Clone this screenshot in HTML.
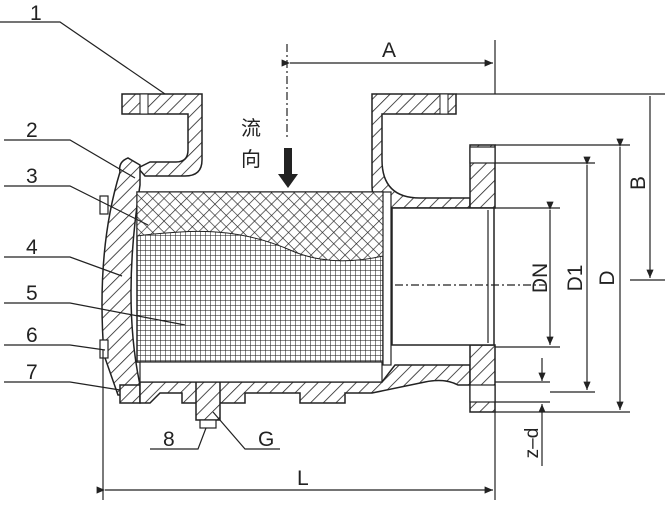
<!DOCTYPE html>
<html><head><meta charset="utf-8"><style>body{margin:0;background:#fff}svg{display:block}text{font-family:"Liberation Sans","Noto Sans CJK SC",sans-serif;fill:#222}</style></head><body>
<svg width="666" height="506" viewBox="0 0 666 506" xmlns="http://www.w3.org/2000/svg">
<defs>
<pattern id="h" width="9" height="9" patternUnits="userSpaceOnUse" patternTransform="rotate(45)"><rect width="9" height="9" fill="#fff"/><line x1="0" y1="0" x2="0" y2="9" stroke="#222" stroke-width="1.6"/></pattern>
<pattern id="x" width="8" height="8" patternUnits="userSpaceOnUse" patternTransform="rotate(45)"><rect width="8" height="8" fill="#fff"/><line x1="0" y1="0" x2="0" y2="8" stroke="#222" stroke-width="1.3"/><line x1="0" y1="0" x2="8" y2="0" stroke="#222" stroke-width="1.3"/></pattern>
<pattern id="g" width="5" height="5" patternUnits="userSpaceOnUse"><rect width="5" height="5" fill="#fff"/><line x1="0" y1="0" x2="0" y2="5" stroke="#222" stroke-width="1.1"/><line x1="0" y1="0" x2="5" y2="0" stroke="#222" stroke-width="1.1"/></pattern>
<marker id="a" markerWidth="8" markerHeight="8" refX="7" refY="3" orient="auto"><path d="M0,0 L7,3 L0,6z" fill="#222"/></marker>
</defs>
<g stroke="#222" stroke-width="1.5" fill="url(#h)">
<path d="M122,94 H202 V160 Q202,176 185,176 H145 L138,168 L150,162 H176 Q188,162 188,150 V114 H122Z"/>
<path d="M372,94 H456 V114 H382 V160 Q382,198 420,198 H470 V208 H390 Q372,208 372,185Z"/>
<path d="M128,158 Q118,162 120,172 Q96,250 104,355 L118,395 H140 L140,385 Q122,300 140,185 L140,165Z"/>
<path d="M120,385 H140 V403 H120Z"/>
<path d="M140,382 H382 L395,365 H470 V385 H458 Q445,378 425,382 L372,393 H345 V403 H300 V393 H245 V403 H182 V393 H160 L150,403 H140Z"/>
<path d="M470,145 H495 V208 H470Z"/>
<path d="M470,345 H495 V412 H470Z"/>
<path d="M196,382 H220 V420 H196Z"/>
</g>
<rect x="200" y="420" width="16" height="8" fill="#fff" stroke="#222" stroke-width="1.2"/>
<rect x="470" y="147" width="25" height="16" fill="#fff" stroke="#222" stroke-width="1.2"/>
<rect x="470" y="385" width="25" height="17" fill="#fff" stroke="#222" stroke-width="1.2"/>
<rect x="440" y="94" width="8" height="20" fill="#fff" stroke="#222" stroke-width="1"/>
<rect x="140" y="94" width="8" height="20" fill="#fff" stroke="#222" stroke-width="1"/>
<rect x="392" y="208" width="102" height="137" fill="#fff" stroke="#222" stroke-width="1.5"/>
<line x1="488" y1="210" x2="488" y2="343" stroke="#222" stroke-width="1.2"/>
<rect x="137" y="192" width="246" height="170" fill="url(#g)" stroke="#222" stroke-width="1.5"/>
<path d="M137,192 H383 V256 Q330,268 290,250 Q240,228 180,232 Q150,234 137,236Z" fill="url(#x)" stroke="#222" stroke-width="1"/>
<rect x="383" y="192" width="8" height="173" fill="#fff" stroke="#222" stroke-width="1.2"/>
<rect x="140" y="362" width="242" height="20" fill="#fff" stroke="#222" stroke-width="1.2"/>
<rect x="100" y="196" width="8" height="18" fill="#fff" stroke="#222" stroke-width="1.2"/>
<rect x="100" y="340" width="8" height="18" fill="#fff" stroke="#222" stroke-width="1.2"/>
<g stroke="#222" stroke-width="1.2" fill="none">
<line x1="287" y1="44" x2="287" y2="140" stroke-dasharray="8,3,2,3"/>
<line x1="395" y1="285" x2="545" y2="285" stroke-dasharray="8,3,2,3"/>
<line x1="495" y1="40" x2="495" y2="94"/>
<line x1="290" y1="63" x2="493" y2="63" marker-start="url(#a)" marker-end="url(#a)"/>
<line x1="456" y1="94" x2="665" y2="94"/>
<line x1="650" y1="96" x2="650" y2="278" marker-end="url(#a)"/>
<line x1="630" y1="280" x2="665" y2="280"/>
<line x1="495" y1="145" x2="630" y2="145"/>
<line x1="495" y1="412" x2="630" y2="412"/>
<line x1="620" y1="147" x2="620" y2="410" marker-start="url(#a)" marker-end="url(#a)"/>
<line x1="495" y1="163" x2="595" y2="163"/>
<line x1="550" y1="392" x2="595" y2="392"/>
<line x1="587" y1="165" x2="587" y2="390" marker-start="url(#a)" marker-end="url(#a)"/>
<line x1="495" y1="208" x2="560" y2="208"/>
<line x1="495" y1="347" x2="560" y2="347"/>
<line x1="550" y1="210" x2="550" y2="345" marker-start="url(#a)" marker-end="url(#a)"/>
<line x1="495" y1="382" x2="550" y2="382"/>
<line x1="495" y1="402" x2="550" y2="402"/>
<line x1="542" y1="358" x2="542" y2="381" marker-end="url(#a)"/>
<line x1="542" y1="466" x2="542" y2="404" marker-end="url(#a)"/>
<line x1="103" y1="350" x2="103" y2="500"/>
<line x1="495" y1="412" x2="495" y2="500"/>
<line x1="105" y1="490" x2="493" y2="490" marker-start="url(#a)" marker-end="url(#a)"/>
<polyline points="0,22 60,22 165,94"/>
<polyline points="4,140 70,140 135,178"/>
<polyline points="4,186 70,186 148,225"/>
<polyline points="4,257 70,257 122,276"/>
<polyline points="4,303 70,303 185,325"/>
<polyline points="4,345 70,345 105,350"/>
<polyline points="4,382 70,382 120,390"/>
<polyline points="150,449 198,449 206,428"/>
<polyline points="280,449 245,449 213,412"/>
</g>
<path d="M284,148 H292 V174 H298 L288,188 L278,174 H284Z" fill="#222"/>
<g font-size="21">
<text x="30" y="20">1</text><text x="26" y="137">2</text><text x="26" y="183">3</text><text x="26" y="254">4</text><text x="26" y="300">5</text><text x="26" y="342">6</text><text x="26" y="379">7</text>
<text x="163" y="446">8</text><text x="258" y="446">G</text><text x="382" y="57">A</text><text x="297" y="485">L</text>
</g>
<text x="241" y="135" font-size="20">流</text><text x="241" y="166" font-size="20">向</text>
<g font-size="21">
<text transform="translate(547,278) rotate(-90)" text-anchor="middle">DN</text>
<text transform="translate(582,278) rotate(-90)" text-anchor="middle">D1</text>
<text transform="translate(614,278) rotate(-90)" text-anchor="middle">D</text>
<text transform="translate(645,183) rotate(-90)" text-anchor="middle">B</text>
<text transform="translate(538,443) rotate(-90)" text-anchor="middle" font-size="19">z–d</text>
</g>
</svg>
</body></html>
